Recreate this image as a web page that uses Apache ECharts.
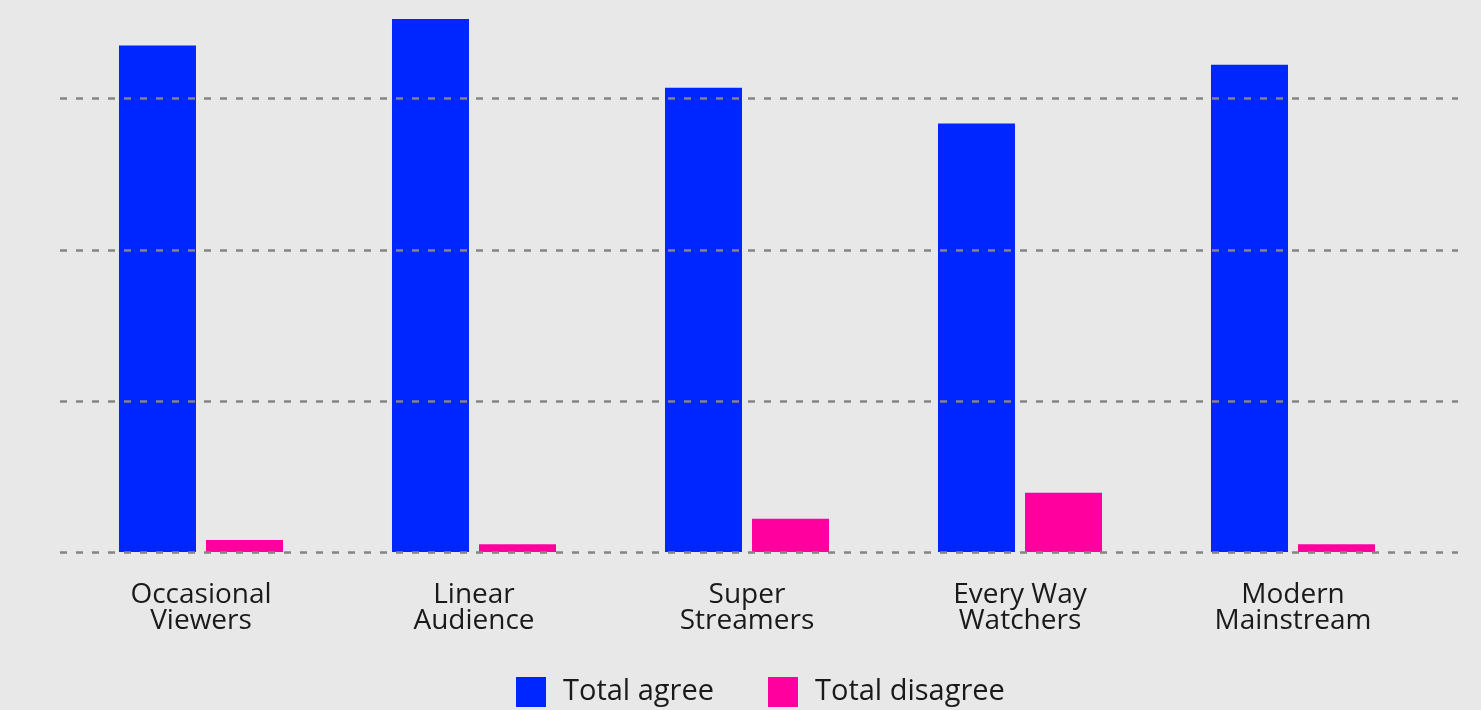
<!DOCTYPE html>
<html>
<head>
<meta charset="utf-8">
<script src="https://cdn.jsdelivr.net/npm/echarts@6/dist/echarts.min.js"></script>
<style>
  html, body { margin: 0; padding: 0; background: #e8e8e8; }
  #chart { width: 1481px; height: 710px; }
</style>
</head>
<body>
<div id="chart"></div>
<script>
var chart = echarts.init(document.getElementById('chart'));

// segments and values (percent)
var categories = ['Occasional\nViewers', 'Linear\nAudience', 'Super\nStreamers', 'Every Way\nWatchers', 'Modern\nMainstream'];
var totalAgree = [83.8, 88.2, 76.8, 70.9, 80.6];
var totalDisagree = [2.0, 1.3, 5.5, 9.8, 1.3];

var font = '"Open Sans", "Noto Sans", sans-serif';

var option = {
    backgroundColor: '#e8e8e8',
    animation: false,
    // grid 0 holds the bars, grid 1 only the dashed lines (they run wider)
    grid: [
        { left: 64.5, right: 51.5, top: 8, bottom: 158 },
        { left: 60, right: 23, top: 8, bottom: 158 }
    ],
    legend: {
        left: 511,
        top: 672,
        itemWidth: 30,
        itemHeight: 30,
        itemGap: 54,
        icon: 'rect',
        textStyle: {
            fontFamily: font,
            fontSize: 29,
            color: '#1a1a1a',
            padding: [0, 0, 0, 12]
        },
        data: ['Total agree', 'Total disagree']
    },
    xAxis: [{
        type: 'category',
        gridIndex: 0,
        data: categories,
        axisLine: { show: false },
        axisTick: { show: false },
        axisLabel: {
            margin: 30,
            fontFamily: font,
            fontSize: 28,
            lineHeight: 26,
            color: '#1a1a1a'
        }
    }, {
        type: 'category',
        gridIndex: 1,
        data: categories,
        show: false
    }],
    yAxis: [{
        type: 'value',
        gridIndex: 0,
        min: 0,
        max: 90,
        show: false,
        splitLine: { show: false }
    }, {
        type: 'value',
        gridIndex: 1,
        min: 0,
        max: 90,
        interval: 25,
        z: 10,
        axisLabel: { show: false },
        axisLine: { show: false },
        axisTick: { show: false },
        splitLine: {
            show: true,
            showMaxLine: false,
            lineStyle: {
                color: '#858585',
                width: 2.5,
                type: [7, 9]
            }
        }
    }],
    series: [{
        name: 'Total agree',
        type: 'bar',
        xAxisIndex: 0,
        yAxisIndex: 0,
        barWidth: 77,
        barGap: '13%',
        itemStyle: { color: '#0026ff' },
        data: totalAgree
    }, {
        name: 'Total disagree',
        type: 'bar',
        xAxisIndex: 0,
        yAxisIndex: 0,
        barWidth: 77,
        itemStyle: { color: '#ff009e' },
        data: totalDisagree
    }]
};

chart.setOption(option);
</script>
</body>
</html>
